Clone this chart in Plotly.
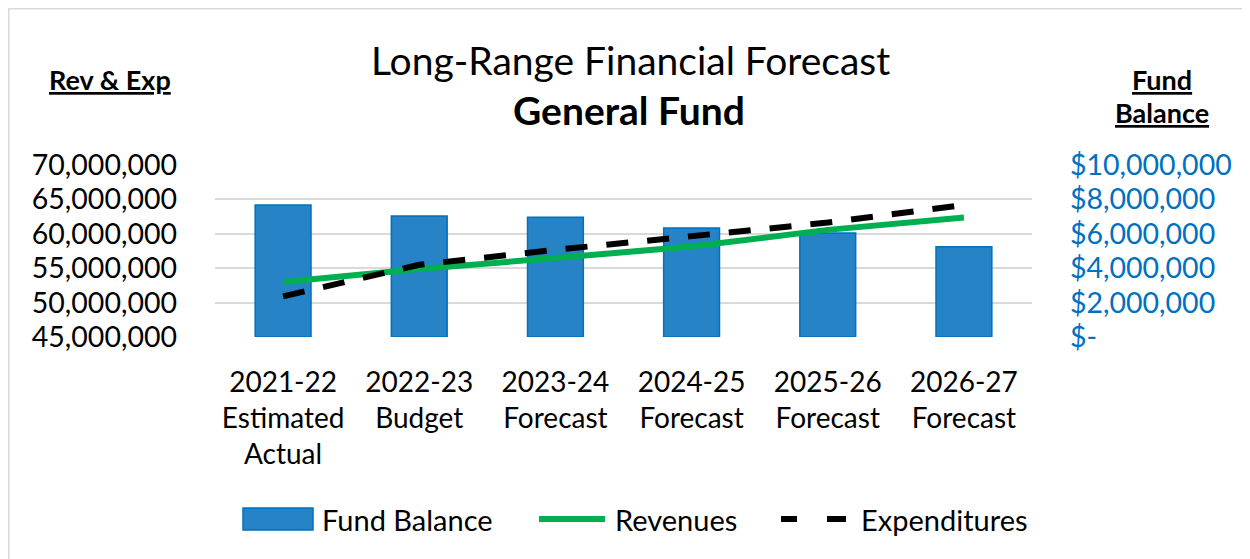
import plotly.graph_objects as go

categories = ["2021-22<br>Estimated<br>Actual", "2022-23<br>Budget", "2023-24<br>Forecast",
              "2024-25<br>Forecast", "2025-26<br>Forecast", "2026-27<br>Forecast"]
fund_balance = [7680000, 7040000, 6960000, 6330000, 6050000, 5240000]
revenues = [52980000, 54900000, 56470000, 58150000, 60570000, 62360000]
expenditures = [50900000, 55500000, 57670000, 59700000, 61630000, 64200000]

left_ticks = [45000000, 50000000, 55000000, 60000000, 65000000, 70000000]
right_ticks = [0, 2000000, 4000000, 6000000, 8000000, 10000000]
right_text = ["$-", "$2,000,000", "$4,000,000", "$6,000,000", "$8,000,000", "$10,000,000"]

FONT = "Lato"
BAR = "#2683C6"
BAR_EDGE = "#0070C0"
GREEN = "#00B050"

# page coords are offset by the 8px body margin
OFF = 8
W, H = 1242, 551
plot_l, plot_r, plot_t, plot_b = 215 - OFF, 1032 - OFF, 165 - OFF, 337 - OFF


def px(x):
    return (x - OFF - plot_l) / (plot_r - plot_l)


def py(y):
    return (plot_b - (y - OFF)) / (plot_b - plot_t)


fig = go.Figure()
fig.add_trace(go.Bar(x=categories, y=fund_balance, name="Fund Balance", yaxis="y",
                     marker=dict(color=BAR, line=dict(color=BAR_EDGE, width=1.5)),
                     width=0.41))
fig.add_trace(go.Scatter(x=categories, y=revenues, name="Revenues", mode="lines",
                         yaxis="y2", line=dict(color=GREEN, width=6)))
fig.add_trace(go.Scatter(x=categories, y=expenditures, name="Expenditures", mode="lines",
                         yaxis="y2", line=dict(color="#000000", width=6, dash="22px,19px")))

shapes = [
    # chart border
    dict(type="rect", xref="paper", yref="paper", layer="below",
         x0=(0.75 - plot_l) / (plot_r - plot_l), x1=(W - 1 - plot_l) / (plot_r - plot_l),
         y0=(plot_b - H - 5) / (plot_b - plot_t), y1=(plot_b - 0.75) / (plot_b - plot_t),
         line=dict(color="#D9D9D9", width=1.5)),
    # legend swatches
    dict(type="rect", xref="paper", yref="paper", x0=px(243), x1=px(313), y0=py(530), y1=py(508),
         fillcolor=BAR, line=dict(color=BAR_EDGE, width=1.5)),
    dict(type="line", xref="paper", yref="paper", x0=px(539), x1=px(605), y0=py(519), y1=py(519),
         line=dict(color=GREEN, width=6)),
    dict(type="line", xref="paper", yref="paper", x0=px(781), x1=px(797), y0=py(519), y1=py(519),
         line=dict(color="#000000", width=6)),
    dict(type="line", xref="paper", yref="paper", x0=px(827), x1=px(846), y0=py(519), y1=py(519),
         line=dict(color="#000000", width=6)),
]

annotations = [
    dict(text="Long-Range Financial Forecast", x=px(630), y=py(60),
         font=dict(size=39, family=FONT)),
    dict(text="<b>General Fund</b>", x=px(629), y=py(110),
         font=dict(size=39, family=FONT)),
    dict(text="<b><u>Rev & Exp</u></b>", x=px(110), y=py(79),
         font=dict(size=27, family=FONT)),
    dict(text="<b><u>Fund</u></b>", x=px(1162), y=py(79),
         font=dict(size=27, family=FONT)),
    dict(text="<b><u>Balance</u></b>", x=px(1162), y=py(113),
         font=dict(size=27, family=FONT)),
    dict(text="Fund Balance", x=px(320), y=py(519), xanchor="left",
         font=dict(size=29, family=FONT)),
    dict(text="Revenues", x=px(613), y=py(519), xanchor="left",
         font=dict(size=29, family=FONT)),
    dict(text="Expenditures", x=px(859), y=py(519), xanchor="left",
         font=dict(size=29, family=FONT)),
]
for a in annotations:
    a.setdefault("xanchor", "center")
    a.update(xref="paper", yref="paper", yanchor="middle", showarrow=False)

fig.update_layout(
    width=W, height=H,
    margin=dict(l=plot_l, r=W - plot_r, t=plot_t, b=H - plot_b, pad=0),
    paper_bgcolor="white", plot_bgcolor="white",
    font=dict(family=FONT, size=27, color="#000000"),
    showlegend=False,
    xaxis=dict(showgrid=False, showline=False, ticks="outside", ticklen=20,
               tickcolor="rgba(0,0,0,0)", tickfont=dict(size=28)),
    yaxis=dict(range=[0, 10000000], tickvals=right_ticks, ticktext=right_text,
               side="right", showgrid=True, gridcolor="#D9D9D9", gridwidth=1.5,
               zeroline=False, showline=False, ticklabelstandoff=37,
               tickfont=dict(size=28.5, color=BAR_EDGE)),
    yaxis2=dict(range=[45000000, 70000000], tickvals=left_ticks, tickformat=",",
                overlaying="y", side="left", showgrid=False, zeroline=False,
                showline=False, ticklabelstandoff=37, tickfont=dict(size=28.5)),
    shapes=shapes,
    annotations=annotations,
)

fig.write_html("out.html")
